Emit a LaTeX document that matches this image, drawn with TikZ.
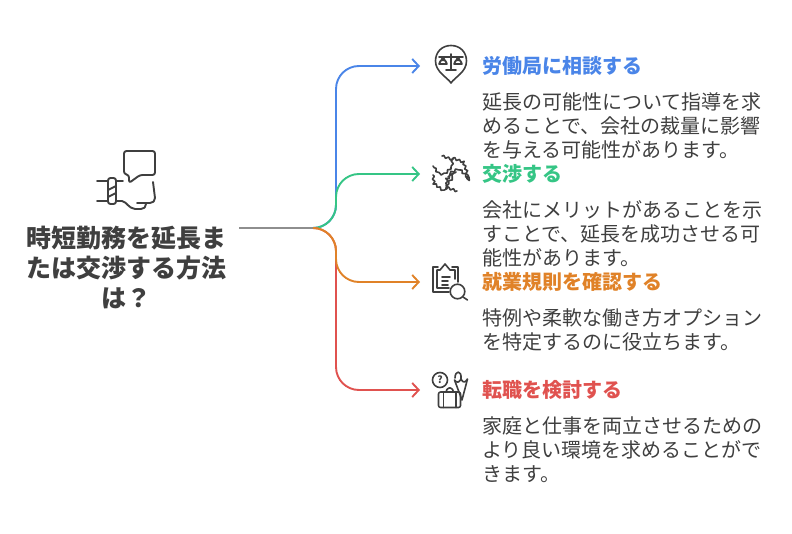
\documentclass[tikz,border=0pt]{standalone}
\usepackage{fontspec}
\setmainfont{Noto Sans CJK JP}
\usetikzlibrary{arrows.meta}
\usetikzlibrary{decorations.pathmorphing}
\definecolor{trunkgray}{HTML}{8E8E8E}
\definecolor{inkgray}{HTML}{3F3F3F}
\definecolor{iconblue}{HTML}{4A85E8}
\definecolor{icongreen}{HTML}{35C585}
\definecolor{iconorange}{HTML}{E08228}
\definecolor{iconred}{HTML}{E0524F}
\begin{document}
\begin{tikzpicture}[x=1pt,y=-1pt]
		\tikzset{title/.style={inner sep=0pt, align=center, text=inkgray, font=\fontsize{25}{30}\selectfont\bfseries}}
		\tikzset{heading/.style={inner sep=0pt, anchor=west, font=\fontsize{20}{24}\selectfont\bfseries}}
		\tikzset{body/.style={inner sep=0pt, anchor=north west, align=left, text=inkgray, font=\fontsize{20}{24}\selectfont}}
		\tikzset{branch/.style={line width=1.9pt, -{Straight Barb[length=6.5pt, width=14pt, line width=1.9pt]}}}
		\tikzset{icon/.style={draw=inkgray, line width=1.6pt, line cap=round, line join=round}}
		\tikzset{bigicon/.style={icon, line width=1.9pt}}
		\tikzset{squiggle/.style={icon, decoration={snake, amplitude=1.1pt, segment length=5pt}, decorate}}
		\useasboundingbox (0, 0) rectangle (792, 534);
		%hub and tips
		\coordinate (start) at (239, 228);
		\coordinate (hub) at (313, 228);
		\coordinate (laborTip) at (420, 66);
		\coordinate (talkTip) at (420, 174);
		\coordinate (rulesTip) at (420, 282);
		\coordinate (moveTip) at (420, 390);
		%edges
		\draw[line width=1.9pt, trunkgray] (start) -- (hub);
		\draw[branch, iconblue] (hub) to[out=0, in=-90] (336, 205) -- (336, 89) to[out=90, in=180] (359, 66) -- (laborTip);
		\draw[branch, icongreen] (hub) to[out=0, in=-90] (336, 205) -- (336, 197) to[out=90, in=180] (359, 174) -- (talkTip);
		\draw[branch, iconred] (hub) to[out=0, in=90] (336, 251) -- (336, 367) to[out=-90, in=180] (359, 390) -- (moveTip);
		\draw[branch, iconorange] (hub) to[out=0, in=90] (336, 251) -- (336, 259) to[out=-90, in=180] (359, 282) -- (rulesTip);
		%title
		\node[title] (topic) at (126, 268) {時短勤務を延長ま\\たは交渉する方法\\は？};
		%headings
		\node[heading, text=iconblue] (laborHead) at (482, 66) {労働局に相談する};
		\node[heading, text=icongreen] (talkHead) at (482, 174) {交渉する};
		\node[heading, text=iconorange] (rulesHead) at (482, 282) {就業規則を確認する};
		\node[heading, text=iconred] (moveHead) at (482, 390) {転職を検討する};
		%descriptions
		\node[body] (laborText) at (482, 92) {延長の可能性について指導を求\\めることで、会社の裁量に影響\\を与える可能性があります。};
		\node[body] (talkText) at (482, 200) {会社にメリットがあることを示\\すことで、延長を成功させる可\\能性があります。};
		\node[body] (rulesText) at (482, 308) {特例や柔軟な働き方オプション\\を特定するのに役立ちます。};
		\node[body] (moveText) at (482, 416) {家庭と仕事を両立させるための\\より良い環境を求めることがで\\きます。};
		%hand and speech bubble
		\draw[bigicon, rounded corners=2.5pt] (129, 183) -- (129, 175) -- (124, 174) -- (124, 151) -- (155, 151) -- (155, 175) -- (140, 175) -- cycle;
		\draw[bigicon, rounded corners=2.5pt] (108, 178) rectangle (116, 204);
		\draw[bigicon] (97, 181) -- (108, 181) (116, 181) -- (123, 181);
		\draw[bigicon] (97, 201) -- (108, 201);
		\draw[bigicon] (108, 190) -- (116, 186) (108, 197) -- (116, 193);
		\draw[bigicon] (116, 201) -- (122, 201) .. controls (127, 202) and (128, 208) .. (135, 209) -- (141, 209) .. controls (144, 209) and (146, 207) .. (146, 204);
		\draw[bigicon] (137, 203) -- (150, 203) .. controls (153, 203) and (155, 201) .. (155, 198) -- (153, 182);
		%scales in a pin
		\draw[icon] (451, 83) .. controls (447, 77) and (435.5, 72) .. (435.5, 61) .. controls (435.5, 52) and (442, 45.5) .. (451, 45.5) .. controls (460, 45.5) and (466.5, 52) .. (466.5, 61) .. controls (466.5, 72) and (455, 77) .. (451, 83) -- cycle;
		\draw[icon] (439, 57) -- (463, 57) (451, 54) -- (451, 70) (446, 70) -- (456, 70);
		\draw[icon] (443, 57) -- (439, 64) -- (447, 64) -- cycle (439, 64) arc[start angle=180, end angle=0, x radius=4, y radius=-4];
		\draw[icon] (458, 57) -- (454, 64) -- (462, 64) -- cycle (454, 64) arc[start angle=180, end angle=0, x radius=4, y radius=-4];
		%tangled ropes
		\draw[squiggle] (442, 156) -- (451, 159) -- (451, 168) -- (445, 174) -- (438, 173) -- (433, 166);
		\draw[squiggle] (453, 158) -- (463, 162) -- (466, 170) -- (468, 182) -- (458, 172) -- (448, 177);
		\draw[squiggle] (433, 175) -- (434, 183) -- (443, 190) -- (446, 182) -- (453, 174);
		\draw[squiggle] (457, 191) -- (448, 188) -- (448, 178) -- (456, 172);
		%clipboard and magnifier
		\draw[icon] (458, 282) -- (458, 267) -- (452, 267) (438, 267) -- (433, 267) -- (433, 292) -- (449, 292);
		\draw[icon] (455, 279) -- (455, 270) -- (450, 270) -- (445, 264) -- (440, 270) -- (437, 270) -- (437, 288) -- (449, 288);
		\draw[icon] (442, 277) -- (450, 277) (442, 281) -- (448, 281) (442, 285) -- (448, 285);
		\draw[icon] (457.5, 291.5) circle[radius=7.3];
		\draw[icon] (463, 297) -- (467.5, 300);
		%question, suitcase and umbrella
		\draw[icon] (440, 380) circle[radius=7.5];
		\node[inner sep=0pt, text=inkgray, font=\fontsize{10}{10}\selectfont\bfseries] (askMark) at (440, 380) {?};
		\draw[icon, rounded corners=2pt] (438.5, 392) rectangle (460.5, 407.5);
		\draw[icon] (443.5, 392) -- (443.5, 407.5) (456, 392) -- (456, 407.5);
		\draw[icon, rounded corners=1.5pt] (446, 392) -- (447.5, 388) -- (452, 388) -- (453.5, 392);
		\draw[icon] (454.5, 380) -- (462, 400) -- (467.5, 379) .. controls (465, 383) and (463, 383) .. (461, 379) .. controls (459, 383) and (456.5, 383) .. (454.5, 380);
		\draw[icon] (455, 378) .. controls (455, 370) and (462, 370) .. (461, 379);
\end{tikzpicture}
\end{document}
